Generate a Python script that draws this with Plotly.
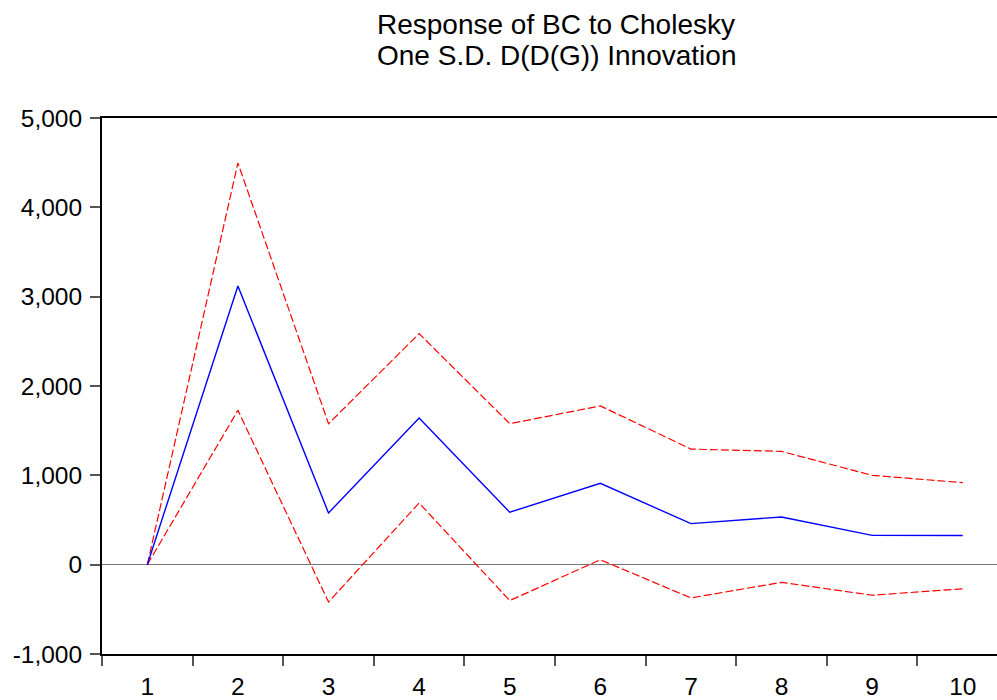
import plotly.graph_objects as go

periods = [1, 2, 3, 4, 5, 6, 7, 8, 9, 10]
response = [0, 3120, 579, 1642, 587, 911, 459, 534, 328, 326]
upper_band = [0, 4497, 1578, 2586, 1578, 1777, 1294, 1268, 1000, 918]
lower_band = [0, 1728, -418, 690, -402, 55, -372, -198, -342, -270]

y_ticks = [-1000, 0, 1000, 2000, 3000, 4000, 5000]
y_tick_text = ["-1,000", "0", "1,000", "2,000", "3,000", "4,000", "5,000"]
title_lines = ["Response of BC to Cholesky", "One S.D. D(D(G)) Innovation"]

FONT = "Liberation Sans, Arial, sans-serif"
red_dash = "8px,3px"

fig = go.Figure()
fig.add_trace(go.Scatter(x=periods, y=upper_band, mode="lines",
                         line=dict(color="#ff0000", width=1.2, dash=red_dash),
                         hoverinfo="skip", showlegend=False))
fig.add_trace(go.Scatter(x=periods, y=lower_band, mode="lines",
                         line=dict(color="#ff0000", width=1.2, dash=red_dash),
                         hoverinfo="skip", showlegend=False))
fig.add_trace(go.Scatter(x=periods, y=response, mode="lines",
                         line=dict(color="#0000ff", width=1.4),
                         showlegend=False))

minor_vals = [p - 0.5 for p in periods] + [periods[-1] + 0.5]

fig.update_layout(
    width=997, height=700,
    margin=dict(l=102, r=0, t=118, b=39),
    paper_bgcolor="white", plot_bgcolor="white",
    font=dict(family=FONT, size=24.5, color="black"),
    xaxis=dict(
        range=[0.5, 10.378],
        tickvals=periods, ticktext=[str(p) for p in periods],
        ticks="outside", ticklen=10, tickcolor="rgba(0,0,0,0)",
        minor=dict(tickvals=minor_vals, ticks="outside", ticklen=10,
                   tickcolor="#555555", tickwidth=1.5, showgrid=False),
        showline=True, linecolor="black", linewidth=2, mirror=True,
        showgrid=False, zeroline=False,
        tickfont=dict(family=FONT, size=24.5, color="black"),
    ),
    yaxis=dict(
        range=[-1000, 5000],
        tickvals=y_ticks, ticktext=y_tick_text,
        ticks="outside", ticklen=10, tickcolor="#555555", tickwidth=1.5,
        showline=True, linecolor="black", linewidth=2, mirror=False,
        showgrid=False,
        zeroline=True, zerolinecolor="#777777", zerolinewidth=1.2,
        tickfont=dict(family=FONT, size=24.5, color="black"),
        ticklabelstandoff=3,
    ),
)

for i, line in enumerate(title_lines):
    fig.add_annotation(text=line, xref="paper", yref="paper",
                       x=(556 - 102) / (997 - 102), y=1 + (118 - (35 + 31.5 * i)) / (700 - 118 - 39),
                       xanchor="center", yanchor="bottom", yshift=-6,
                       showarrow=False, font=dict(family=FONT, size=28, color="black"))

fig.write_html("out.html")
